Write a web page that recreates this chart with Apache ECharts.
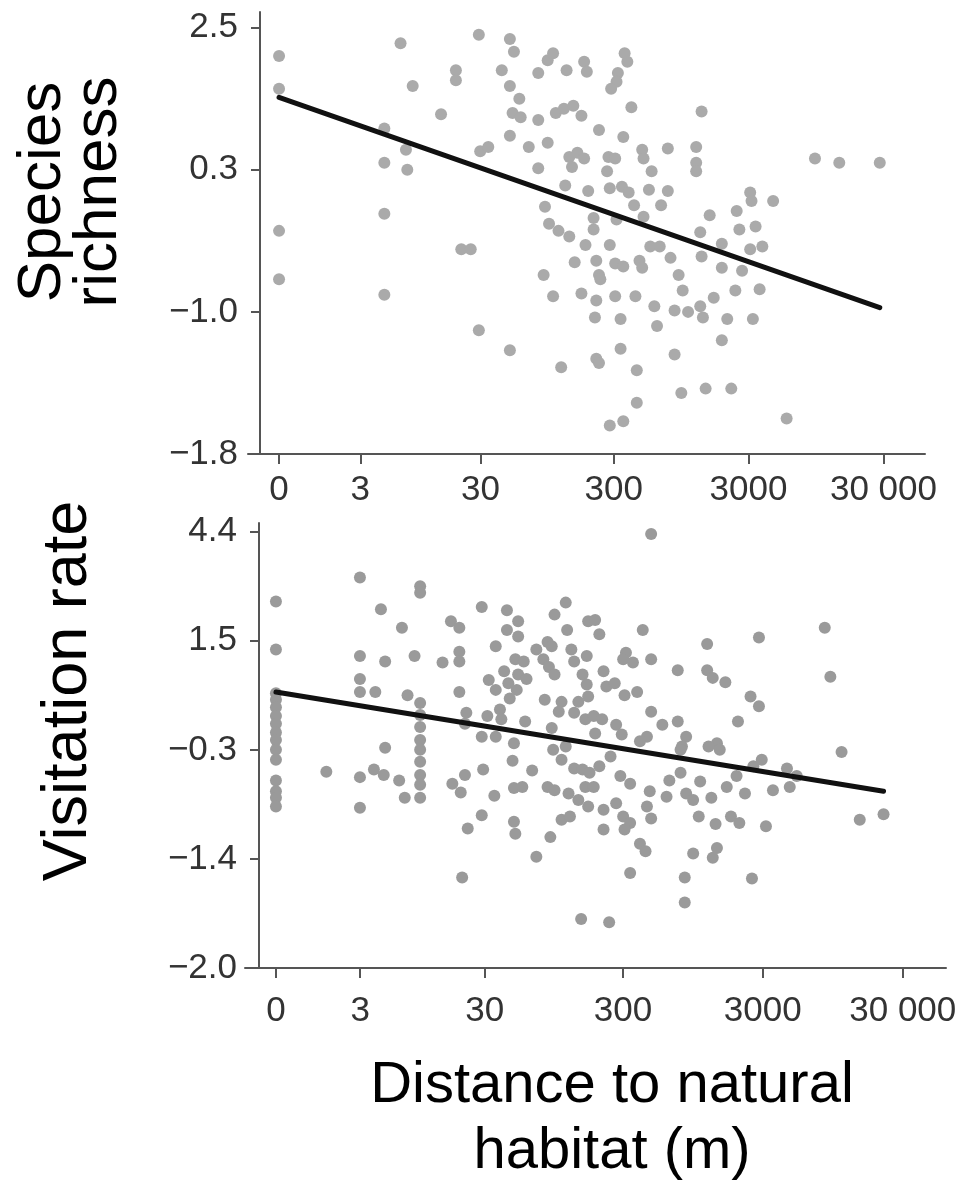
<!DOCTYPE html>
<html><head><meta charset="utf-8">
<script src="https://cdn.jsdelivr.net/npm/echarts@6/dist/echarts.min.js"></script>
<style>html,body{margin:0;padding:0;background:#fff}#c{width:960px;height:1182px}</style>
</head><body><div id="c"></div>
<script>
// Distance axis: positions are log10(distance + 1)
const distTicks = [0, 3, 30, 300, 3000, 30000];
const distTickLabels = ['0', '3', '30', '300', '3000', '30 000'];
// Y axes: tick labels are evenly spaced (index positions 0,1,2,...)
const topYTickLabels = ['\u22121.8', '\u22121.0', '0.3', '2.5'];
const botYTickLabels = ['\u22122.0', '\u22121.4', '\u22120.3', '1.5', '4.4'];

// Species richness panel (x = log10(dist+1), y = position on tick-index scale)
const topX = [0.00,0.00,0.90,0.99,1.48,1.31,1.31,1.20,0.78,0.94,0.78,0.95,0.78,0.00,1.71,1.74,1.65,1.71,1.78,1.73,1.79,1.92,1.99,2.03,2.13,2.26,2.28,1.92,2.05,2.11,2.18,2.24,1.71,1.85,1.99,1.49,1.55,1.92,2.15,2.21,2.26,2.17,2.12,2.29,1.97,2.00,2.07,2.15,0.00,0.78,1.35,1.42,1.48,1.71,2.09,1.96,2.03,2.24,2.19,2.27,2.56,2.58,2.51,2.50,2.46,2.61,2.37,2.55,2.44,2.49,2.43,2.69,2.70,2.76,2.88,3.13,3.09,3.09,3.09,3.97,4.15,4.45,2.45,2.54,2.59,2.63,2.74,2.88,2.83,2.70,2.33,2.33,2.50,3.19,3.39,3.49,3.50,3.66,3.41,3.53,3.12,2.45,2.35,2.49,2.55,2.67,2.69,2.37,2.38,2.35,2.49,2.64,2.34,2.53,2.78,2.80,2.75,2.82,2.90,2.96,2.99,2.93,3.03,3.12,3.14,3.13,3.28,3.28,3.22,3.32,3.28,3.38,3.43,3.49,3.58,3.56,3.51,2.35,2.37,2.53,2.65,2.65,2.45,2.55,2.93,2.98,3.16,3.35,3.76];
const topY = [2.80,2.57,2.89,2.59,2.95,2.70,2.63,2.39,2.29,2.14,2.05,2.00,1.69,1.57,2.92,2.83,2.70,2.59,2.50,2.40,2.37,2.68,2.77,2.82,2.70,2.76,2.69,2.35,2.40,2.43,2.45,2.38,2.24,2.16,2.19,2.13,2.16,2.01,2.09,2.12,2.08,2.02,1.89,1.85,1.74,1.62,1.57,1.53,1.23,1.12,1.44,1.44,0.87,0.73,0.61,1.26,1.11,1.13,1.35,1.47,2.82,2.76,2.68,2.62,2.57,2.44,2.28,2.23,2.09,2.08,1.99,2.14,2.08,1.99,2.15,2.41,2.16,2.05,1.99,2.08,2.05,2.05,1.87,1.88,1.84,1.75,1.86,1.85,1.75,1.67,1.66,1.58,1.65,1.68,1.71,1.84,1.78,1.78,1.58,1.60,1.56,1.47,1.36,1.34,1.32,1.36,1.31,1.26,1.23,1.08,1.11,1.11,0.96,0.95,1.04,0.90,1.46,1.46,1.38,1.26,1.15,1.01,1.00,1.04,0.96,1.39,1.48,1.31,1.10,0.95,0.80,1.15,1.29,1.44,1.46,1.16,0.95,0.67,0.64,0.74,0.59,0.36,0.20,0.23,0.70,0.43,0.46,0.46,0.25];
const topFitX = [0.00, 4.45];
const topFitY = [2.51, 1.03];

// Visitation rate panel
const botX = [0,0,0,0,0,0,0,0,0,0,0,0,0,0,0,0.60,0.60,0.60,0.60,0.60,0.60,0.75,0.90,1.03,1.03,1.03,1.03,1.03,1.03,1.03,1.03,1.03,1.03,1.03,0.78,0.99,0.71,0.94,0.78,1.19,1.31,1.31,1.25,1.31,1.31,1.47,1.65,1.73,1.65,1.73,1.57,1.99,2.07,2.08,2.23,1.86,1.94,1.97,2.11,2.13,2.22,1.71,1.77,1.91,1.95,1.99,1.63,1.73,1.79,1.66,1.52,1.57,1.72,1.67,1.92,2.04,2.16,2.19,2.22,2.02,2.13,2.21,1.36,1.35,1.51,1.60,1.61,1.78,1.97,1.47,1.57,1.70,2.07,2.68,2.28,2.31,2.62,3.08,3.45,3.92,3.96,2.50,2.55,2.48,2.68,2.87,3.08,3.12,3.21,2.34,2.36,2.42,2.49,2.58,2.23,3.39,3.45,2.68,2.76,2.87,3.30,2.27,2.33,2.43,2.28,2.47,2.65,2.60,2.93,2.90,3.15,3.09,4.04,0.36,0.70,0.77,0.88,0.92,1.26,1.32,1.35,1.48,1.56,1.47,1.37,1.33,1.69,1.83,1.70,1.76,1.70,1.71,1.96,1.86,2.18,1.98,2.04,2.13,2.19,1.94,1.99,2.09,2.16,2.23,2.04,2.10,2.21,2.24,2.27,2.31,2.39,2.46,2.53,2.34,2.43,2.48,2.53,2.34,2.49,2.67,2.65,2.68,2.60,2.64,2.53,2.38,2.79,2.81,2.89,2.93,2.98,3.03,3.11,2.89,3.17,3.02,3.14,3.25,3.31,3.50,2.98,3.15,3.12,2.92,2.92,3.40,3.22,3.35,3.55,3.67,3.29,3.41,3.47,3.65,3.72,4.17,4.34];
const botY = [3.36,2.92,2.52,2.46,2.39,2.31,2.24,2.16,2.09,2.00,1.91,1.72,1.62,1.56,1.48,3.58,2.86,2.65,2.53,1.75,1.47,3.29,3.12,3.50,3.44,2.43,2.32,2.21,2.09,2.00,1.89,1.77,1.68,1.56,2.81,2.86,2.53,2.50,2.02,2.80,2.90,2.81,3.18,3.12,2.53,3.31,3.28,3.18,3.10,3.04,2.95,3.24,3.35,3.10,3.18,2.92,2.99,2.95,2.92,2.81,2.86,2.83,2.81,2.83,2.76,2.69,2.72,2.69,2.65,2.61,2.64,2.55,2.55,2.47,2.46,2.44,2.44,2.69,2.60,2.35,2.34,2.28,2.34,2.24,2.31,2.37,2.28,2.26,2.20,2.12,2.12,2.06,2.03,3.98,3.19,3.06,3.10,2.97,3.03,3.12,2.67,2.89,2.80,2.83,2.83,2.73,2.73,2.66,2.62,2.72,2.58,2.61,2.50,2.53,2.49,2.49,2.40,2.35,2.23,2.26,2.26,2.31,2.28,2.23,2.15,2.14,2.12,2.08,2.12,2.03,2.06,2.03,1.98,1.80,1.82,1.77,1.72,1.56,1.69,1.61,1.77,1.82,1.58,1.40,1.28,0.83,1.90,1.81,1.65,1.66,1.34,1.23,1.20,1.02,0.45,2.00,1.91,1.83,1.82,1.66,1.63,1.60,1.54,1.48,1.36,1.39,1.66,1.79,1.66,1.85,1.94,1.76,1.69,1.45,1.51,1.39,1.33,1.27,1.27,1.62,1.48,1.37,1.14,1.07,0.87,0.42,1.57,1.72,1.79,1.60,1.54,1.71,1.56,2.00,2.00,1.39,1.32,1.39,1.33,1.30,1.05,1.10,1.01,0.83,0.60,0.82,1.66,1.60,1.63,1.66,1.76,1.85,1.91,1.83,1.76,1.36,1.41];
const botFitX = [0.00, 4.34];
const botFitY = [2.53, 1.62];

const zip = (xs, ys) => xs.map((x, i) => [x, ys[i]]);
const tickPos = distTicks.map(d => Math.log10(d + 1));
const FONT = 'Liberation Sans, Arial, sans-serif';

function xAxisCfg(gridIndex, min, max, margin) {
  return {
    type: 'value', gridIndex, min, max,
    axisLine: { show: true, onZero: false, lineStyle: { color: '#555', width: 2 } },
    axisTick: { show: true, length: 10, customValues: tickPos, lineStyle: { color: '#555', width: 2 } },
    axisLabel: {
      customValues: tickPos, color: '#333', fontSize: 35, fontFamily: FONT, margin,
      formatter: v => { const i = tickPos.findIndex(p => Math.abs(p - v) < 1e-6); return i >= 0 ? distTickLabels[i] : ''; }
    },
    splitLine: { show: false }
  };
}
function yAxisCfg(gridIndex, labels, max, offset) {
  const vals = labels.map((_, i) => i);
  return {
    type: 'value', gridIndex, min: 0, max, offset,
    axisLine: { show: true, onZero: false, lineStyle: { color: '#555', width: 2 } },
    axisTick: { show: true, length: 9, customValues: vals, lineStyle: { color: '#555', width: 2 } },
    axisLabel: {
      customValues: vals, color: '#333', fontSize: 35, fontFamily: FONT, margin: 22,
      formatter: v => labels[Math.round(v)]
    },
    splitLine: { show: false }
  };
}

const chart = echarts.init(document.getElementById('c'), null, { renderer: 'canvas' });
chart.setOption({
  backgroundColor: '#fff',
  animation: false,
  grid: [
    { left: 248, right: 35, top: 12, height: 442 },
    { left: 245, right: 14, top: 523, height: 445 }
  ],
  xAxis: [xAxisCfg(0, -0.23, 4.785, 19), xAxisCfg(1, -0.221, 4.786, 26)],
  yAxis: [yAxisCfg(0, topYTickLabels, 3.11, -12), yAxisCfg(1, botYTickLabels, 4.08, -14)],
  series: [
    { type: 'scatter', xAxisIndex: 0, yAxisIndex: 0, data: zip(topX, topY), symbolSize: 12, itemStyle: { color: '#aaaaaa', opacity: 1 }, z: 2 },
    { type: 'line', xAxisIndex: 0, yAxisIndex: 0, data: zip(topFitX, topFitY), symbol: 'none', lineStyle: { color: '#111', width: 5, cap: 'round' }, z: 3 },
    { type: 'scatter', xAxisIndex: 1, yAxisIndex: 1, data: zip(botX, botY), symbolSize: 12, itemStyle: { color: '#9a9a9a', opacity: 1 }, z: 2 },
    { type: 'line', xAxisIndex: 1, yAxisIndex: 1, data: zip(botFitX, botFitY), symbol: 'none', lineStyle: { color: '#111', width: 5, cap: 'round' }, z: 3 }
  ],
  graphic: [
    { type: 'text', x: 71, y: 192, rotation: Math.PI / 2,
      style: { text: 'Species\nrichness', font: '62px ' + FONT, fill: '#000', align: 'center', verticalAlign: 'middle', lineHeight: 56 } },
    { type: 'text', x: 69, y: 691, rotation: Math.PI / 2,
      style: { text: 'Visitation rate', font: '63px ' + FONT, fill: '#000', align: 'center', verticalAlign: 'middle' } },
    { type: 'text', x: 612, y: 1119,
      style: { text: 'Distance to natural\nhabitat (m)', font: '58px ' + FONT, fill: '#000', align: 'center', verticalAlign: 'middle', lineHeight: 66 } }
  ]
});
</script></body></html>
